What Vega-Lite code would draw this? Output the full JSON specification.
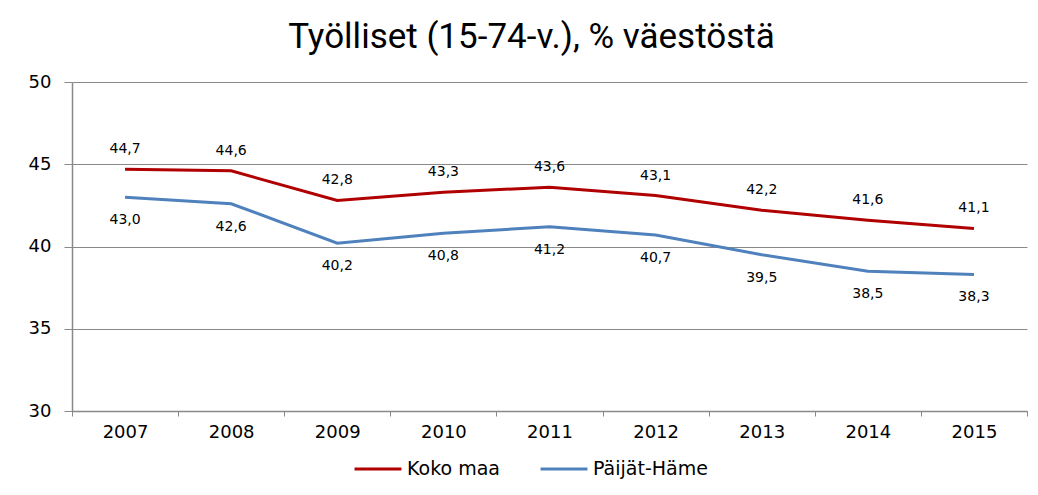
{
  "$schema": "https://vega.github.io/schema/vega-lite/v6.json",
  "width": 955,
  "height": 329,
  "autosize": {"type": "none"},
  "padding": {"left": 72, "top": 82, "right": 11, "bottom": 84},
  "background": "white",
  "title": {
    "text": "Työlliset (15-74-v.), % väestöstä",
    "font": "Roboto",
    "fontSize": 35,
    "fontWeight": "normal",
    "color": "#000000",
    "anchor": "middle",
    "dx": -18,
    "offset": 18
  },
  "config": {
    "locale": {"number": {"decimal": ",", "thousands": " ", "grouping": [3], "currency": ["", " €"]}},
    "view": {"stroke": null},
    "font": "DejaVu Sans"
  },
  "data": {
    "values": [
      {"year": "2007", "series": "Koko maa", "value": 44.7},
      {"year": "2008", "series": "Koko maa", "value": 44.6},
      {"year": "2009", "series": "Koko maa", "value": 42.8},
      {"year": "2010", "series": "Koko maa", "value": 43.3},
      {"year": "2011", "series": "Koko maa", "value": 43.6},
      {"year": "2012", "series": "Koko maa", "value": 43.1},
      {"year": "2013", "series": "Koko maa", "value": 42.2},
      {"year": "2014", "series": "Koko maa", "value": 41.6},
      {"year": "2015", "series": "Koko maa", "value": 41.1},
      {"year": "2007", "series": "Päijät-Häme", "value": 43.0},
      {"year": "2008", "series": "Päijät-Häme", "value": 42.6},
      {"year": "2009", "series": "Päijät-Häme", "value": 40.2},
      {"year": "2010", "series": "Päijät-Häme", "value": 40.8},
      {"year": "2011", "series": "Päijät-Häme", "value": 41.2},
      {"year": "2012", "series": "Päijät-Häme", "value": 40.7},
      {"year": "2013", "series": "Päijät-Häme", "value": 39.5},
      {"year": "2014", "series": "Päijät-Häme", "value": 38.5},
      {"year": "2015", "series": "Päijät-Häme", "value": 38.3}
    ]
  },
  "encoding": {
    "x": {
      "field": "year",
      "type": "ordinal",
      "scale": {"type": "band", "paddingInner": 0, "paddingOuter": 0},
      "axis": {
        "title": null,
        "labelAngle": 0,
        "labelFont": "DejaVu Sans",
        "labelFontSize": 18,
        "labelColor": "#000000",
        "labelPadding": 7,
        "tickBand": "extent",
        "tickSize": 5,
        "tickColor": "#898989",
        "domainColor": "#898989",
        "domainWidth": 1.5,
        "grid": false
      }
    },
    "y": {
      "field": "value",
      "type": "quantitative",
      "scale": {"domain": [30, 50], "nice": false, "zero": false},
      "axis": {
        "title": null,
        "values": [30, 35, 40, 45, 50],
        "labelFont": "DejaVu Sans",
        "labelFontSize": 18,
        "labelColor": "#000000",
        "labelPadding": 13,
        "tickSize": 8,
        "tickColor": "#898989",
        "domainColor": "#898989",
        "domainWidth": 1.5,
        "grid": true,
        "gridColor": "#898989",
        "gridWidth": 1
      }
    }
  },
  "layer": [
    {
      "mark": {"type": "line", "strokeWidth": 3},
      "encoding": {
        "color": {
          "field": "series",
          "type": "nominal",
          "scale": {"domain": ["Koko maa", "Päijät-Häme"], "range": ["#B00000", "#4F81BD"]},
          "legend": {
            "title": null,
            "orient": "none",
            "direction": "horizontal",
            "legendX": 281,
            "legendY": 362,
            "symbolType": "stroke",
            "symbolSize": 2200,
            "symbolStrokeWidth": 3,
            "labelFont": "DejaVu Sans",
            "labelFontSize": 19,
            "labelColor": "#000000",
            "labelOffset": 4,
            "columnPadding": 34
          }
        }
      }
    },
    {
      "transform": [{"filter": "datum.series === 'Koko maa'"}],
      "mark": {"type": "text", "dy": -20, "fontSize": 14, "font": "DejaVu Sans", "color": "#000000"},
      "encoding": {"text": {"field": "value", "type": "quantitative", "format": ".1f"}}
    },
    {
      "transform": [{"filter": "datum.series === 'Päijät-Häme'"}],
      "mark": {"type": "text", "dy": 23, "fontSize": 14, "font": "DejaVu Sans", "color": "#000000"},
      "encoding": {"text": {"field": "value", "type": "quantitative", "format": ".1f"}}
    }
  ]
}
